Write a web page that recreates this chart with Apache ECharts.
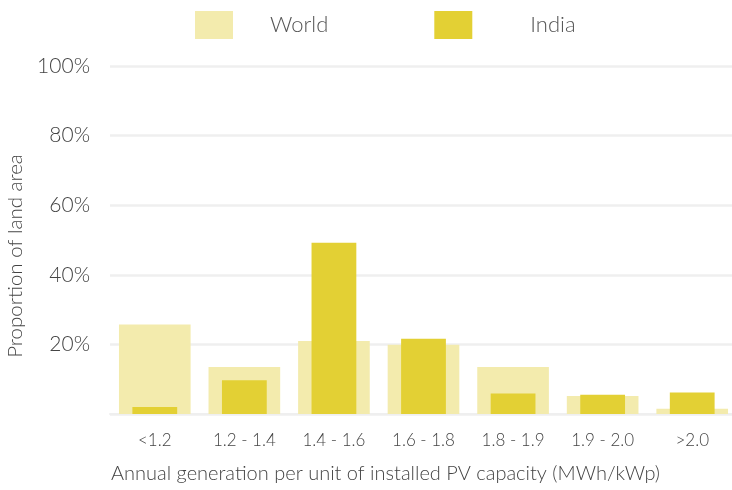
<!DOCTYPE html>
<html><head><meta charset="utf-8">
<script src="https://cdn.jsdelivr.net/npm/echarts@6/dist/echarts.min.js"></script>
<style>html,body{margin:0;padding:0;background:#fff}#c{width:732px;height:490px}</style>
</head><body><div id="c"></div>
<script>
const categories = ['<1.2', '1.2 - 1.4', '1.4 - 1.6', '1.6 - 1.8', '1.8 - 1.9', '1.9 - 2.0', '>2.0'];
const worldValues = [25.7, 13.5, 21.0, 19.9, 13.5, 5.2, 1.5];
const indiaValues = [2.0, 9.7, 49.2, 21.6, 5.9, 5.5, 6.2];
const yTicks = [0, 20, 40, 60, 80, 100];

const FONT = 'Lato';
const chart = echarts.init(document.getElementById('c'), null, {renderer: 'canvas'});
chart.setOption({
  animation: false,
  textStyle: {fontFamily: FONT},
  legend: {
    top: 11, left: 195, padding: 0,
    itemWidth: 38, itemHeight: 28, itemGap: 106,
    icon: 'rect',
    textStyle: {fontSize: 22, color: '#555', fontWeight: 300, padding: [0, 0, 0, 32], fontFamily: FONT},
    data: [
      {name: 'World'},
      {name: 'India', textStyle: {padding: [0, 0, 0, 53]}}
    ]
  },
  grid: {left: 110, right: -5, top: 66, bottom: 76, containLabel: false, outerBoundsMode: 'none'},
  xAxis: [{
    type: 'category', data: categories,
    axisLine: {show: true, lineStyle: {color: '#efefef', width: 2}},
    axisTick: {show: false},
    axisLabel: {fontSize: 17, color: '#444', margin: 18, fontWeight: 300},
    name: 'Annual generation per unit of installed PV capacity (MWh/kWp)',
    nameLocation: 'middle', nameGap: 50,
    nameTextStyle: {fontSize: 20, color: '#444', fontWeight: 300, padding: [0, 76, 0, 0]}
  }, {
    type: 'category', data: categories, show: false, position: 'bottom'
  }],
  yAxis: {
    type: 'value', min: yTicks[0], max: yTicks[yTicks.length - 1], interval: 20,
    axisLine: {show: false}, axisTick: {show: false},
    splitLine: {lineStyle: {color: '#efefef', width: 2.5}},
    axisLabel: {fontSize: 21, color: '#444', margin: 20, fontWeight: 300,
      formatter: v => v === 0 ? '' : v + '%'},
    name: 'Proportion of land area', nameLocation: 'middle', nameGap: 80,
    nameTextStyle: {fontSize: 20.5, color: '#444', fontWeight: 300, padding: [0, 32, 0, 0]}
  },
  series: [
    {name: 'World', type: 'bar', xAxisIndex: 0, data: worldValues, barWidth: '80%',
      itemStyle: {color: '#f3ebad'}},
    {name: 'India', type: 'bar', xAxisIndex: 1, data: indiaValues, barWidth: '50%',
      itemStyle: {color: '#e3d034'}}
  ]
});
</script></body></html>
